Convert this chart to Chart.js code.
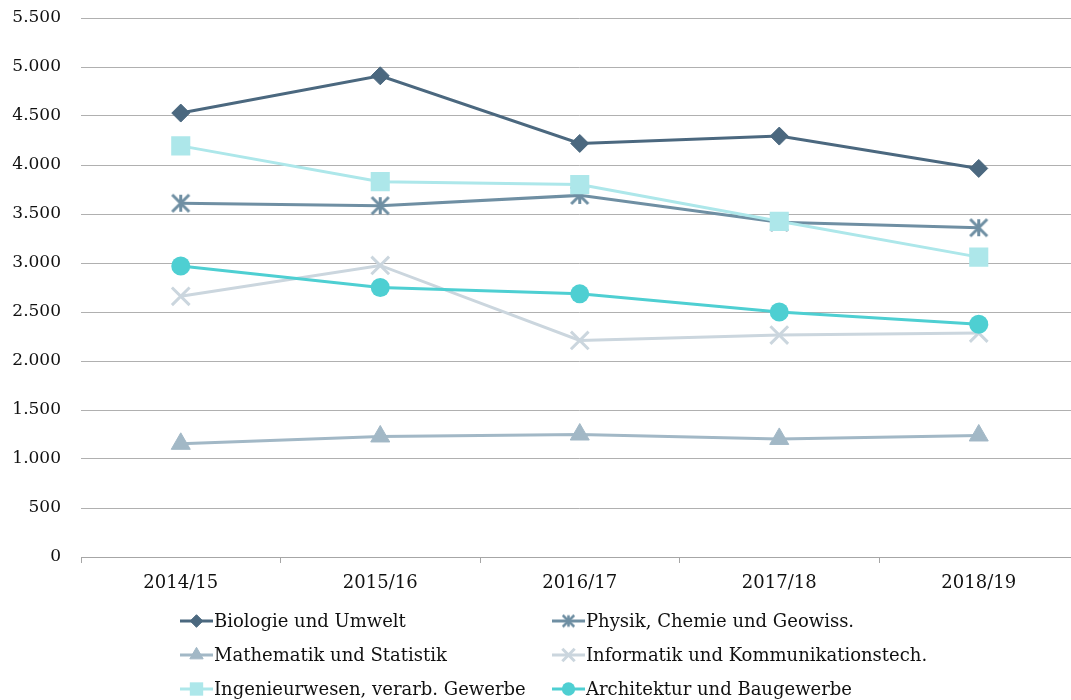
<!DOCTYPE html>
<html>
<head>
<meta charset="utf-8">
<script src="https://cdn.jsdelivr.net/npm/chart.js@4/dist/chart.umd.min.js"></script>
<style>
  html, body { margin: 0; padding: 0; overflow: hidden; background: #fff; }
  #chart { display: block; }
</style>
</head>
<body>
<canvas id="chart" width="1094" height="700"></canvas>
<script>
// Categories (academic years)
const years = ['2014/15', '2015/16', '2016/17', '2017/18', '2018/19'];

// Series values
const biologie    = [4530, 4910, 4220, 4295, 3965];
const physik      = [3610, 3585, 3690, 3415, 3360];
const mathematik  = [1155, 1230, 1250, 1205, 1240];
const informatik  = [2660, 2975, 2210, 2265, 2285];
const ingenieur   = [4195, 3830, 3800, 3425, 3060];
const architektur = [2970, 2750, 2685, 2500, 2375];

const seriesNames = [
    'Biologie und Umwelt',
    'Physik, Chemie und Geowiss.',
    'Mathematik und Statistik',
    'Informatik und Kommunikationstech.',
    'Ingenieurwesen, verarb. Gewerbe',
    'Architektur und Baugewerbe'
];

// y axis ticks
const yMin = 0;
const yMax = 5500;
const yStep = 500;

const FONT = 'DejaVu Serif';

// German thousands separator, e.g. 5500 -> 5.500
function formatNumber(v) {
    return String(v).replace(/\B(?=(\d{3})+(?!\d))/g, '.');
}

// six-spoke asterisk marker (vertical bar + X), as in the original
function makeAsterisk(size, color, lw) {
    const c = document.createElement('canvas');
    c.width = size;
    c.height = size;
    const g = c.getContext('2d');
    const m = lw / 2 + 0.5;
    g.strokeStyle = color;
    g.lineWidth = lw;
    g.beginPath();
    g.moveTo(size / 2, m);
    g.lineTo(size / 2, size - m);
    g.moveTo(m, m);
    g.lineTo(size - m, size - m);
    g.moveTo(size - m, m);
    g.lineTo(m, size - m);
    g.stroke();
    return c;
}

function makeDataset(label, data, color, style, radius, borderW, order) {
    return {
        label: label,
        data: data,
        borderColor: color,
        backgroundColor: color,
        borderWidth: 3,
        pointStyle: style,
        pointRadius: radius,
        pointHoverRadius: radius,
        pointBackgroundColor: color,
        pointBorderColor: color,
        pointBorderWidth: borderW,
        tension: 0,
        fill: false,
        order: order
    };
}

// drop the label overhang padding so the layout padding decides the plot box
function noOverhang(scale) {
    scale.paddingTop = 0;
    scale.paddingBottom = 0;
    scale.paddingLeft = 0;
    scale.paddingRight = 0;
}

// Legend drawn as a 2-column grid below the axis
const gridLegend = {
    id: 'gridLegend',
    afterDraw(chart) {
        const ctx = chart.ctx;
        const cols = [180, 552];
        const rows = [621, 655, 689];
        ctx.save();
        chart.data.datasets.forEach((ds, i) => {
            const x = cols[i % 2];
            const y = rows[Math.floor(i / 2)];
            ctx.strokeStyle = ds.borderColor;
            ctx.fillStyle = ds.borderColor;
            ctx.lineWidth = 3;
            ctx.beginPath();
            ctx.moveTo(x, y);
            ctx.lineTo(x + 33, y);
            ctx.stroke();
            if (typeof ds.pointStyle === 'string') {
                ctx.lineWidth = ds.pointBorderWidth;
                Chart.helpers.drawPoint(ctx, {
                    pointStyle: ds.pointStyle,
                    radius: ds.pointRadius * 0.7,
                    borderWidth: ds.pointBorderWidth,
                    rotation: 0
                }, x + 16.5, y);
            } else {
                const small = makeAsterisk(15, ds.borderColor, 2.5);
                ctx.drawImage(small, x + 16.5 - 7.5, y - 7.5);
            }
            ctx.fillStyle = '#111';
            ctx.font = '18px "' + FONT + '"';
            ctx.textAlign = 'left';
            ctx.textBaseline = 'middle';
            ctx.fillText(ds.label, x + 34, y + 1);
        });
        ctx.restore();
    }
};

const physikColor = '#6f8fa3';

const ctx = document.getElementById('chart').getContext('2d');
const chart = new Chart(ctx, {
    type: 'line',
    data: {
        labels: years,
        datasets: [
            makeDataset(seriesNames[0], biologie,    '#4b687f', 'rectRot',  9,    1, 6),
            makeDataset(seriesNames[1], physik,      physikColor, makeAsterisk(21, physikColor, 3), 10, 0, 5),
            makeDataset(seriesNames[2], mathematik,  '#a2b8c6', 'triangle', 11,   1, 4),
            makeDataset(seriesNames[3], informatik,  '#cbd6de', 'crossRot', 12.5, 3, 3),
            makeDataset(seriesNames[4], ingenieur,   '#ade7ea', 'rect',     13.5, 0, 2),
            makeDataset(seriesNames[5], architektur, '#4ecfd2', 'circle',   9.5,  0, 1)
        ]
    },
    options: {
        responsive: false,
        animation: false,
        layout: {
            padding: { top: 18, right: 1.5, bottom: 103, left: 0 }
        },
        plugins: {
            legend: { display: false },
            tooltip: { enabled: false }
        },
        scales: {
            x: {
                offset: true,
                grid: {
                    display: true,
                    offset: true,
                    drawOnChartArea: false,
                    drawTicks: true,
                    tickLength: 6,
                    color: '#a6a6a6'
                },
                border: { display: true, color: '#a6a6a6', width: 1 },
                ticks: {
                    color: '#111',
                    font: { family: FONT, size: 18 },
                    padding: 10,
                    maxRotation: 0
                },
                afterFit(scale) {
                    scale.height = 40;
                    noOverhang(scale);
                }
            },
            y: {
                min: yMin,
                max: yMax,
                grid: {
                    color: '#b0b0b0',
                    lineWidth: 1,
                    drawTicks: false
                },
                border: { display: false },
                ticks: {
                    stepSize: yStep,
                    color: '#111',
                    font: { family: FONT, size: 17 },
                    padding: 20,
                    callback: v => formatNumber(v)
                },
                afterFit(scale) {
                    scale.width = 81;
                    noOverhang(scale);
                }
            }
        }
    },
    plugins: [gridLegend]
});
</script>
</body>
</html>
